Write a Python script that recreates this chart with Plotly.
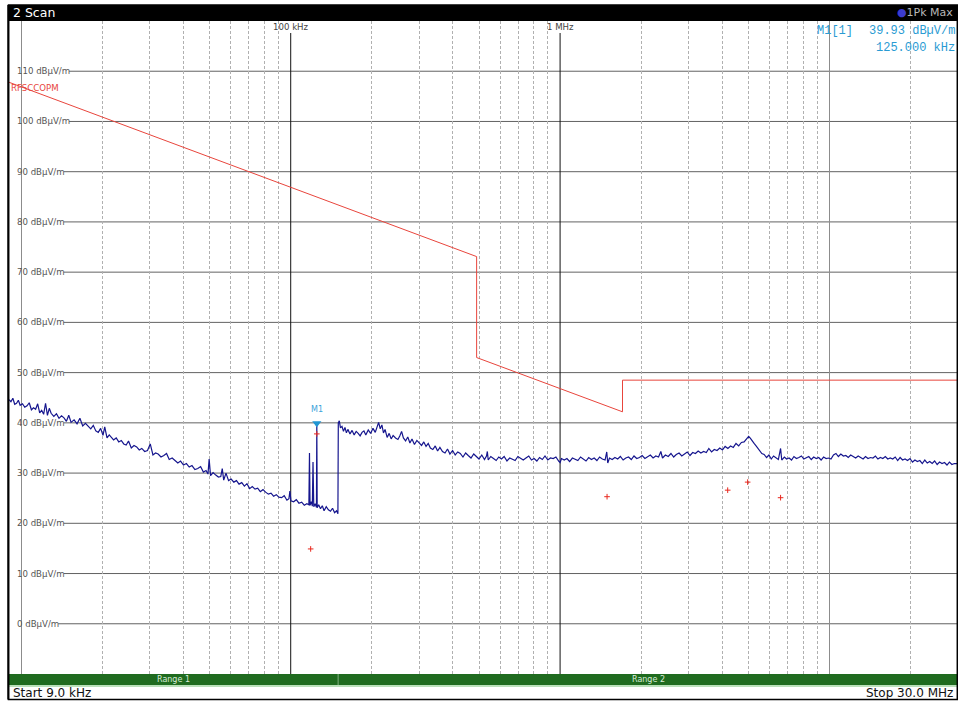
import math
import plotly.graph_objects as go

# ---------------- data ----------------
range1_freq_khz = [9.0, 9.15, 9.3, 9.45, 9.6, 9.75, 9.9, 10.1, 10.3, 10.5,
                   10.7, 10.9, 11.1, 11.3, 11.5, 11.7, 11.9, 12.1, 12.3, 12.5,
                   12.7, 12.9, 13.2, 13.5, 13.8, 14.1, 14.4, 14.7, 15.0, 15.3,
                   15.7, 16.1, 16.5, 16.9, 17.3, 17.7, 18.1, 18.5, 18.9, 19.3,
                   19.7, 20.1, 20.4, 20.8, 21.2, 21.6, 22.0, 22.5, 23.0, 23.5,
                   24.0, 24.5, 25.0, 25.6, 26.2, 26.8, 27.4, 28.0, 28.7, 29.4,
                   30.1, 30.8, 31.5, 32.2, 33.0, 33.8, 34.6, 35.4, 36.3, 37.2,
                   38.1, 39.0, 40.0, 41.0, 42.0, 43.0, 44.1, 45.2, 46.3, 47.4,
                   48.5, 49.3, 49.8, 50.4, 51.5, 52.7, 53.9, 55.0, 55.7, 56.4,
                   57.5, 58.8, 60.1, 61.5, 62.9, 64.3, 65.8, 67.3, 68.8, 70.4,
                   72.0, 73.7, 75.4, 77.1, 78.9, 80.7, 82.6, 84.5, 86.4, 88.4,
                   90.4, 92.5, 94.6, 96.8, 98.5, 99.3, 100.2, 102.5, 104.9, 107.3,
                   109.8, 112.3, 114.8, 116.8, 117.4, 118.0, 119.3, 120.3, 121.0, 121.8,
                   123.2, 124.6, 125.0, 125.4, 127.0, 129.0, 131.0, 133.0, 135.5, 138.0,
                   140.5, 143.0, 145.5, 148.0, 149.7]
range1_level = [44.6, 44.2, 44.9, 43.7, 43.9, 44.5, 43.5, 43.8, 43.1, 43.4,
                44.0, 42.6, 43.0, 42.7, 43.8, 42.0, 42.5, 41.7, 43.9, 41.5,
                42.9, 41.9, 41.3, 41.8, 40.9, 41.4, 41.0, 40.3, 41.5, 40.1,
                40.6, 39.8, 40.9, 39.4, 39.9, 39.3, 38.8, 39.5, 38.4, 38.1,
                38.9, 37.5, 39.2, 37.0, 37.6, 37.1, 36.6, 37.0, 36.2, 36.5,
                35.8, 35.6, 36.4, 35.0, 35.5, 35.2, 34.6, 34.9, 34.3, 34.5,
                35.8, 33.6, 34.0, 33.8, 33.2, 33.5, 33.9, 32.7, 33.0, 32.5,
                32.0, 32.4, 31.6, 31.9, 31.2, 31.5, 30.7, 30.9, 31.3, 30.2,
                30.5, 29.8, 32.8, 29.5, 30.1, 29.6, 29.2, 29.3, 30.9, 28.6,
                30.0, 28.5, 28.8, 28.2, 28.5, 27.8, 28.1, 27.4, 27.9, 26.9,
                27.3, 26.8, 27.0, 26.3, 26.7, 26.2, 25.8, 26.0, 25.4, 25.7,
                25.2, 25.1, 25.5, 24.6, 24.9, 26.4, 24.5, 24.3, 24.7, 24.0,
                24.2, 23.6, 23.9, 23.7, 34.0, 23.6, 24.3, 23.4, 32.2, 23.3,
                23.9, 23.2, 39.93, 23.1, 23.7, 22.9, 23.5, 22.5, 23.3, 22.7,
                22.4, 23.0, 22.1, 22.5, 21.9]

range2_freq_khz = [150.2, 151.5, 153, 155, 157, 159, 161, 163, 166, 169,
                   172, 175, 178, 181, 184, 187, 190, 194, 198, 202,
                   206, 209, 212, 215, 218, 221, 224, 228, 232, 236,
                   240, 245, 250, 254, 258, 262, 267, 272, 277, 282,
                   288, 294, 300, 306, 312, 318, 324, 330, 337, 344,
                   351, 358, 366, 374, 382, 390, 399, 408, 417, 426,
                   436, 446, 456, 467, 478, 489, 500, 512, 524, 533,
                   537, 541, 553, 566, 579, 592, 606, 620, 635, 650,
                   665, 681, 697, 713, 730, 747, 765, 783, 801, 820,
                   839, 859, 879, 900, 921, 943, 965, 988, 1000, 1012,
                   1036, 1060, 1085, 1111, 1137, 1164, 1191, 1219, 1248, 1277,
                   1307, 1338, 1370, 1402, 1435, 1469, 1490, 1503, 1525, 1561,
                   1598, 1636, 1674, 1714, 1754, 1795, 1838, 1881, 1925, 1971,
                   2017, 2065, 2113, 2163, 2214, 2266, 2320, 2366, 2400, 2460,
                   2520, 2580, 2640, 2700, 2765, 2830, 2897, 2965, 3035, 3107,
                   3180, 3255, 3332, 3410, 3490, 3565, 3650, 3736, 3825, 3915,
                   4007, 4100, 4196, 4294, 4395, 4498, 4603, 4710, 4820, 4930,
                   5012, 5090, 5170, 5250, 5340, 5430, 5520, 5610, 5720, 5840,
                   5960, 6080, 6200, 6330, 6460, 6585, 6650, 6800, 6930, 7080,
                   7230, 7380, 7540, 7700, 7870, 8030, 8200, 8380, 8560, 8740,
                   8930, 9120, 9310, 9510, 9720, 9920, 10130, 10350, 10570, 10790,
                   11020, 11260, 11500, 11740, 11990, 12250, 12510, 12780, 13050, 13330,
                   13610, 13900, 14200, 14500, 14810, 15130, 15450, 15780, 16120, 16460,
                   16810, 17170, 17540, 17910, 18290, 18680, 19080, 19490, 19900, 20330,
                   20760, 21200, 21650, 22110, 22590, 23070, 23560, 24060, 24570, 25100,
                   25630, 26170, 26730, 27300, 27880, 28480, 29080, 29700, 30000]
range2_level = [40.0, 40.4, 39.0, 39.3, 38.3, 39.1, 38.0, 38.7, 37.8, 38.5,
                37.6, 38.3, 37.9, 37.4, 38.1, 38.4, 37.6, 38.6, 37.9, 38.9,
                38.1, 39.4, 40.1, 38.8, 39.6, 38.0, 38.7, 37.1, 37.9, 36.8,
                37.5, 37.0, 36.7, 37.4, 38.3, 37.0, 36.4, 37.2, 36.0, 36.8,
                35.7, 36.5, 35.9, 35.5, 36.2, 35.3, 35.9, 35.0, 34.7, 35.4,
                34.4, 35.1, 34.3, 34.0, 34.8, 33.8, 34.5, 33.6, 34.2, 33.9,
                33.2, 34.0, 33.5, 33.0, 33.8, 33.3, 32.8, 33.6, 32.7, 33.4,
                34.3, 32.6, 33.3, 32.9, 32.5, 33.2, 32.8, 33.3, 32.4, 33.0,
                32.8, 32.5, 33.3, 32.9, 32.6, 33.0, 33.4, 32.6, 32.9, 32.4,
                33.1, 32.7, 33.4, 32.6, 33.0, 32.9, 33.2, 32.4, 32.1, 32.9,
                32.6, 32.9, 32.3, 33.0, 32.7, 32.5, 33.2, 32.8, 32.4, 33.1,
                32.7, 33.0, 32.5, 33.2, 32.8, 32.6, 34.2, 32.0, 33.0, 32.7,
                33.1, 32.8, 33.3, 32.6, 33.0, 33.2, 32.7, 33.4, 32.9, 33.1,
                33.5, 32.9, 33.3, 33.6, 33.0, 33.4, 33.2, 34.3, 33.0, 33.6,
                33.3, 33.9, 33.2, 33.7, 34.0, 33.4, 33.8, 34.2, 33.5, 34.1,
                33.9, 34.4, 34.0, 34.3, 34.1, 34.9, 34.2, 34.7, 34.5, 35.0,
                34.6, 35.3, 34.9, 35.4, 35.1, 35.9, 35.4, 36.1, 36.2, 36.8,
                37.3, 36.9, 36.5, 35.9, 35.4, 34.9, 34.5, 33.9, 33.7, 33.1,
                33.6, 32.8, 33.4, 33.0, 32.7, 34.9, 32.6, 33.2, 32.8, 33.0,
                32.6, 33.3, 32.9, 33.1, 33.4, 32.8, 33.0, 33.3, 32.7, 33.2,
                32.9, 33.1, 32.6, 33.2, 32.9, 33.0, 32.8, 33.6, 33.9, 33.3,
                33.8, 33.4, 33.5, 33.1, 33.6, 33.3, 33.0, 33.4, 33.1, 32.8,
                33.3, 32.9, 33.1, 33.0, 33.4, 32.8, 33.1, 32.9, 33.3, 32.8,
                33.0, 32.8, 33.2, 32.5, 33.1, 32.6, 32.8, 32.5, 32.9, 32.2,
                32.6, 32.3, 32.5, 31.9, 32.6, 32.0, 32.3, 31.9, 32.4, 31.7,
                32.2, 31.9, 32.1, 31.6, 32.2, 31.7, 31.9, 31.8, 31.9]

limit_freq_khz = [9, 490, 490, 1705, 1705, 30000]
limit_level = [107.8, 73.1, 53.0, 42.2, 48.5, 48.5]
limit_name = "RFSCCOPM"

final_freq_khz = [118.6, 125.0, 1494, 4190, 4969, 6585]
final_level = [14.9, 37.8, 25.3, 26.6, 28.2, 25.1]

marker_freq_khz = [125.0]
marker_level = [39.93]

y_ticks = [0, 10, 20, 30, 40, 50, 60, 70, 80, 90, 100, 110]
x_decades_gray = [10, 10000]
x_decades_black = [100, 1000]
x_decade_labels = ["100 kHz", "1 MHz"]
x_minor = [20, 30, 40, 50, 60, 70, 80, 90,
           200, 300, 400, 500, 600, 700, 800, 900,
           2000, 3000, 4000, 5000, 6000, 7000, 8000, 9000,
           20000]
range_bounds_khz = [9, 150, 30000]
range_names = ["Range 1", "Range 2"]

assert len(range1_freq_khz) == len(range1_level)
assert len(range2_freq_khz) == len(range2_level)

# ---------------- geometry helpers ----------------
W, H = 958, 702
L, R, T, B = 9, 0, 21, 28
PW, PH = W - L - R, H - T - B


def px_x(px):
    return (px - L) / PW


def px_y(py):
    return (H - B - py) / PH


FS = 8.6
CW = {'0': .636, '1': .636, '2': .636, '3': .636, '4': .636, '5': .636,
      '6': .636, '7': .636, '8': .636, '9': .636, ' ': .318, 'd': .635,
      'B': .686, 'µ': .636, 'V': .684, '/': .337, 'm': .974}


def text_w(s):
    return sum(CW.get(c, .6) for c in s) * FS


fig = go.Figure()

fig.add_trace(go.Scatter(x=limit_freq_khz, y=limit_level, mode="lines",
                         line=dict(color="#e8453c", width=1), hoverinfo="skip"))
fig.add_trace(go.Scatter(x=range1_freq_khz + range2_freq_khz,
                         y=range1_level + range2_level, mode="lines",
                         line=dict(color="#16168e", width=1.2), hoverinfo="skip"))
fig.add_trace(go.Scatter(x=final_freq_khz, y=final_level, mode="markers",
                         marker=dict(symbol="cross-thin", size=4,
                                     line=dict(color="#e8281e", width=1)),
                         hoverinfo="skip"))
fig.add_trace(go.Scatter(x=marker_freq_khz, y=marker_level, mode="markers",
                         marker=dict(symbol="triangle-down", size=8, color="#2196d3"),
                         hoverinfo="skip"))

shapes = []
annotations = []

# horizontal grid lines (start right after each label)
for v in y_ticks:
    lab = f"{v} dBµV/m"
    x0 = px_x(15 + text_w(lab) + 1)
    shapes.append(dict(type="line", xref="paper", yref="y", x0=x0, x1=1, y0=v, y1=v,
                       line=dict(color="#626262", width=1), layer="between"))
    annotations.append(dict(xref="paper", yref="y", x=px_x(15), y=v, text=lab,
                            showarrow=False, xanchor="left", yanchor="middle",
                            font=dict(family="DejaVu Sans", size=FS, color="#555555")))

# black decade lines with labels on top
for f, lab in zip(x_decades_black, x_decade_labels):
    shapes.append(dict(type="line", xref="x", yref="paper", x0=f, x1=f, y0=0,
                       y1=px_y(33), line=dict(color="#111111", width=1), layer="between"))
    annotations.append(dict(xref="x", yref="paper", x=math.log10(f), y=px_y(27), text=lab,
                            showarrow=False, xanchor="center", yanchor="middle",
                            font=dict(family="DejaVu Sans", size=FS, color="#444444")))

# limit line name
annotations.append(dict(xref="paper", yref="y", x=px_x(9), y=106.6, text=limit_name,
                        showarrow=False, xanchor="left", yanchor="middle",
                        font=dict(family="DejaVu Sans", size=FS, color="#e8453c")))

# marker label
annotations.append(dict(xref="x", yref="y", x=math.log10(marker_freq_khz[0]), y=marker_level[0],
                        text="M1", showarrow=False, yshift=14, xanchor="center",
                        font=dict(family="DejaVu Sans", size=8, color="#3aa3da")))

# title bar
shapes.append(dict(type="rect", xref="paper", yref="paper", x0=px_x(8), x1=1,
                   y0=px_y(21), y1=px_y(5), fillcolor="#000000", line=dict(width=0),
                   layer="above"))
annotations.append(dict(xref="paper", yref="paper", x=px_x(11), y=px_y(13), text="2 Scan",
                        showarrow=False, xanchor="left", yanchor="middle",
                        font=dict(family="DejaVu Sans", size=12.5, color="#ffffff")))
annotations.append(dict(xref="paper", yref="paper", x=px_x(955), y=px_y(13),
                        text="<span style='color:#3b3bd0'>●</span>1Pk Max",
                        showarrow=False, xanchor="right", yanchor="middle",
                        font=dict(family="DejaVu Sans", size=11, color="#b8b8b8")))

# marker readout
mono = "Liberation Mono"
annotations.append(dict(xref="paper", yref="paper", x=px_x(815), y=px_y(31), text="M1[1]",
                        showarrow=False, xanchor="left", yanchor="middle",
                        font=dict(family=mono, size=12, color="#2a9bd3")))
annotations.append(dict(xref="paper", yref="paper", x=px_x(957), y=px_y(31),
                        text=f"{marker_level[0]:.2f} dBµV/m",
                        showarrow=False, xanchor="right", yanchor="middle",
                        font=dict(family=mono, size=12, color="#2a9bd3")))
annotations.append(dict(xref="paper", yref="paper", x=px_x(957), y=px_y(48),
                        text=f"{marker_freq_khz[0]:.3f} kHz",
                        showarrow=False, xanchor="right", yanchor="middle",
                        font=dict(family=mono, size=12, color="#2a9bd3")))

# range bar
shapes.append(dict(type="rect", xref="paper", yref="paper", x0=px_x(9), x1=1,
                   y0=px_y(685), y1=px_y(674), fillcolor="#1f6b1f", line=dict(width=0),
                   layer="above"))
shapes.append(dict(type="line", xref="paper", yref="paper", x0=px_x(9), x1=1,
                   y0=px_y(686), y1=px_y(686), line=dict(color="#a3d6a3", width=1.5),
                   layer="above"))
for f in range_bounds_khz[1:-1]:
    shapes.append(dict(type="line", xref="x", yref="paper", x0=f, x1=f,
                       y0=px_y(685), y1=px_y(674), line=dict(color="#7fb07f", width=1),
                       layer="above"))
for i, name in enumerate(range_names):
    c = (math.log10(range_bounds_khz[i]) + math.log10(range_bounds_khz[i + 1])) / 2
    annotations.append(dict(xref="x", yref="paper", x=c, y=px_y(679.5), text=name,
                            showarrow=False, xanchor="center", yanchor="middle",
                            font=dict(family="DejaVu Sans", size=8, color="#d8ecd8")))

annotations.append(dict(xref="paper", yref="paper", x=px_x(11), y=px_y(692.5),
                        text=f"Start {range_bounds_khz[0]:.1f} kHz",
                        showarrow=False, xanchor="left", yanchor="middle",
                        font=dict(family="DejaVu Sans", size=12, color="#111111")))
annotations.append(dict(xref="paper", yref="paper", x=px_x(955), y=px_y(692.5),
                        text=f"Stop {range_bounds_khz[-1] / 1000:.1f} MHz",
                        showarrow=False, xanchor="right", yanchor="middle",
                        font=dict(family="DejaVu Sans", size=12, color="#111111")))

# outer frame
shapes.append(dict(type="rect", xref="paper", yref="paper", x0=px_x(8.5), x1=px_x(957.3),
                   y0=px_y(699.5), y1=px_y(5), line=dict(color="#000000", width=1.5),
                   fillcolor="rgba(0,0,0,0)", layer="above"))
shapes.append(dict(type="line", xref="paper", yref="paper", x0=px_x(8.3), x1=px_x(8.3),
                   y0=px_y(699.5), y1=px_y(5), line=dict(color="#000000", width=2),
                   layer="above"))

fig.update_layout(
    width=W, height=H,
    margin=dict(l=L, r=R, t=T, b=B, pad=0),
    paper_bgcolor="#ffffff", plot_bgcolor="#ffffff",
    showlegend=False,
    xaxis=dict(type="log", range=[math.log10(9), math.log10(30000)],
               tickvals=x_decades_gray, showgrid=True, gridcolor="#8c8c8c", gridwidth=1,
               showticklabels=False, ticks="", zeroline=False, showline=False,
               minor=dict(tickvals=x_minor, showgrid=True, gridcolor="#b0b0b0",
                          griddash="3px,2px", gridwidth=1, ticks="")),
    yaxis=dict(range=[-10, 120], showgrid=False, showticklabels=False, ticks="",
               zeroline=False, showline=False),
    shapes=shapes,
    annotations=annotations,
)

fig.write_html("out.html", config={"displayModeBar": False},
               post_script="document.body.style.margin='0';"
                           "document.body.style.overflow='hidden';")
